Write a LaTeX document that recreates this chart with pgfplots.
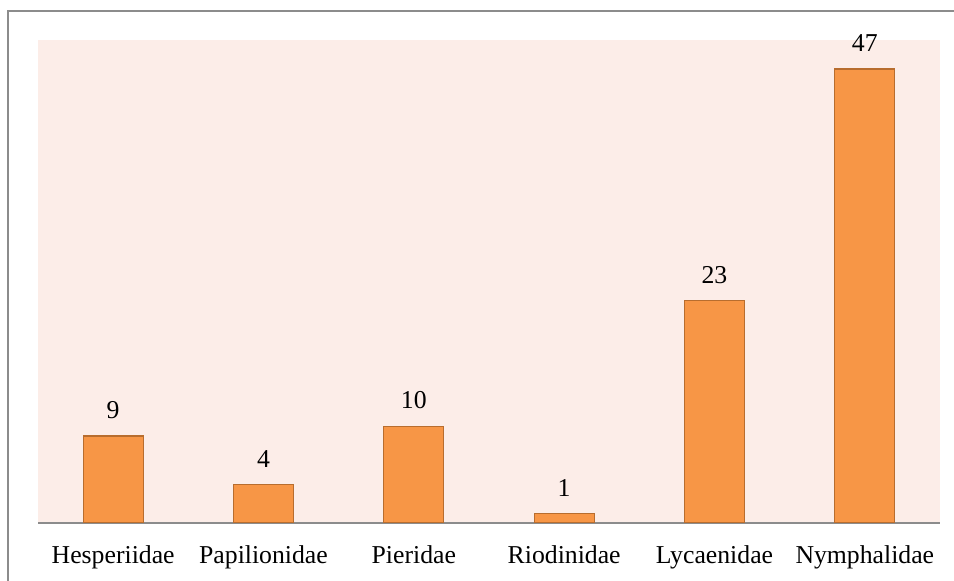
\documentclass[border=0pt]{standalone}
\usepackage{pgfplots}
\pgfplotsset{compat=1.18}
\usepackage{fontspec}
\setmainfont{Liberation Serif}
\definecolor{plotbg}{HTML}{FCEDE8}
\definecolor{barfill}{HTML}{F79646}
\definecolor{barline}{HTML}{B86D2E}
\definecolor{axisgray}{HTML}{8C8C8C}
\begin{document}
\begin{tikzpicture}
\useasboundingbox (0,0) rectangle (715.5pt,435.75pt);
\draw[color=axisgray, line width=1.5pt] (6pt,-3pt) -- (6pt,427.5pt) -- (720pt,427.5pt);
\begin{axis}[
  at={(28.5pt,43.5pt)}, anchor=south west,
  scale only axis, width=676.5pt, height=362.25pt,
  xmin=-0.5, xmax=5.5, ymin=0, ymax=50,
  axis x line*=bottom, axis y line=none,
  x axis line style={color=axisgray, line width=1.5pt, -},
  axis background/.style={fill=plotbg},
  xtick=data, major tick length=0pt,
  xticklabels={Hesperiidae, Papilionidae, Pieridae, Riodinidae, Lycaenidae, Nymphalidae},
  xticklabel style={font=\fontsize{19.3pt}{23pt}\selectfont, inner sep=0pt, anchor=north, yshift=-17pt},
  ybar, bar width=45pt,
  /pgf/number format/assume math mode=true,
  nodes near coords,
  every node near coord/.append style={font=\fontsize{19.3pt}{23pt}\selectfont, anchor=south, inner sep=0pt, yshift=12.5pt, color=black},
]
\addplot[fill=barfill, draw=barline, line width=0.9pt] coordinates {(0,9) (1,4) (2,10) (3,1) (4,23) (5,47)};
\end{axis}
\end{tikzpicture}
\end{document}
